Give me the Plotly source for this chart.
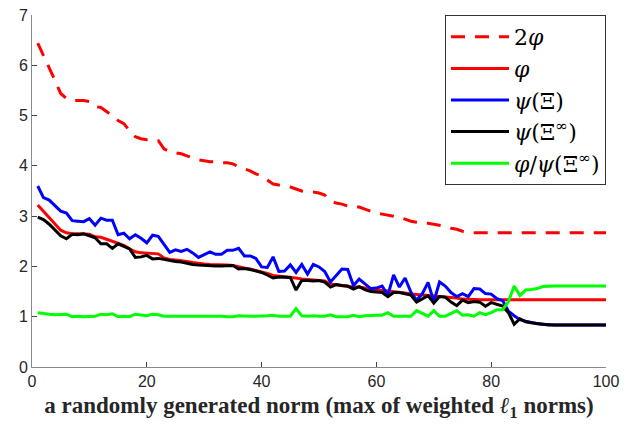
import plotly.graph_objects as go

x_vals = list(range(1, 101))

two_phi = [6.44, 6.20, 5.94, 5.70, 5.44, 5.34, 5.30, 5.30, 5.30, 5.28,
           5.18, 5.16, 5.08, 5.00, 4.90, 4.84, 4.70, 4.58, 4.54, 4.52,
           4.52, 4.50, 4.34, 4.28, 4.26, 4.24, 4.20, 4.16, 4.12, 4.10,
           4.08, 4.08, 4.06, 4.06, 4.04, 3.98, 3.94, 3.90, 3.84, 3.80,
           3.72, 3.64, 3.62, 3.60, 3.58, 3.54, 3.50, 3.48, 3.48, 3.46,
           3.42, 3.30, 3.26, 3.24, 3.20, 3.18, 3.18, 3.14, 3.10, 3.06,
           3.04, 3.02, 3.00, 2.98, 2.94, 2.90, 2.88, 2.86, 2.86, 2.84,
           2.82, 2.80, 2.76, 2.74, 2.70, 2.68, 2.67, 2.67, 2.67, 2.67,
           2.67, 2.67, 2.67, 2.67, 2.67, 2.67, 2.67, 2.67, 2.67, 2.67,
           2.67, 2.67, 2.67, 2.67, 2.67, 2.67, 2.67, 2.67, 2.67, 2.67]

phi = [3.22, 3.10, 2.97, 2.85, 2.72, 2.67, 2.65, 2.65, 2.65, 2.64,
       2.59, 2.58, 2.54, 2.50, 2.45, 2.42, 2.35, 2.29, 2.27, 2.26,
       2.26, 2.25, 2.17, 2.14, 2.13, 2.12, 2.10, 2.08, 2.06, 2.05,
       2.04, 2.04, 2.03, 2.03, 2.02, 1.99, 1.97, 1.95, 1.92, 1.90,
       1.86, 1.82, 1.81, 1.80, 1.79, 1.77, 1.75, 1.74, 1.74, 1.73,
       1.71, 1.65, 1.63, 1.62, 1.60, 1.59, 1.59, 1.57, 1.55, 1.53,
       1.52, 1.51, 1.50, 1.49, 1.47, 1.45, 1.44, 1.43, 1.43, 1.42,
       1.41, 1.40, 1.38, 1.37, 1.35, 1.34, 1.335, 1.335, 1.335, 1.335,
       1.335, 1.335, 1.335, 1.335, 1.335, 1.335, 1.335, 1.335, 1.335, 1.335,
       1.335, 1.335, 1.335, 1.335, 1.335, 1.335, 1.335, 1.335, 1.335, 1.335]

psi_xi = [3.60, 3.37, 3.32, 3.21, 3.10, 3.06, 2.91, 2.90, 2.89, 2.95,
          2.82, 2.96, 2.92, 2.92, 2.63, 2.66, 2.55, 2.63, 2.56, 2.47,
          2.62, 2.60, 2.43, 2.28, 2.33, 2.30, 2.34, 2.27, 2.18, 2.24,
          2.29, 2.24, 2.24, 2.32, 2.32, 2.36, 2.21, 2.21, 2.16, 1.99,
          1.98, 2.19, 1.90, 1.91, 2.03, 1.88, 2.04, 1.85, 2.04, 1.99,
          1.90, 1.69, 1.83, 1.95, 1.94, 1.62, 1.75, 1.66, 1.56, 1.57,
          1.61, 1.43, 1.83, 1.59, 1.77, 1.49, 1.33, 1.46, 1.68, 1.30,
          1.69, 1.61, 1.48, 1.40, 1.46, 1.40, 1.56, 1.55, 1.46, 1.45,
          1.36, 1.32, 1.11, 1.02, 0.94, 0.91, 0.88, 0.86, 0.85, 0.835,
          0.835, 0.835, 0.835, 0.835, 0.835, 0.835, 0.835, 0.835, 0.835, 0.835]

psi_xi_inf = [2.98, 2.93, 2.84, 2.73, 2.61, 2.55, 2.64, 2.63, 2.65, 2.61,
              2.57, 2.45, 2.45, 2.36, 2.45, 2.40, 2.35, 2.18, 2.19, 2.22,
              2.15, 2.16, 2.14, 2.11, 2.10, 2.09, 2.06, 2.04, 2.03, 2.02,
              2.02, 2.01, 2.01, 2.02, 2.02, 1.95, 1.96, 1.94, 1.91, 1.88,
              1.83, 1.77, 1.79, 1.79, 1.78, 1.53, 1.72, 1.72, 1.71, 1.72,
              1.69, 1.59, 1.64, 1.62, 1.61, 1.55, 1.60, 1.54, 1.50, 1.49,
              1.48, 1.40, 1.48, 1.48, 1.46, 1.43, 1.29, 1.35, 1.42, 1.27,
              1.40, 1.39, 1.29, 1.22, 1.33, 1.28, 1.30, 1.29, 1.21, 1.28,
              1.24, 1.21, 1.08, 0.85, 0.96, 0.90, 0.88, 0.86, 0.85, 0.835,
              0.835, 0.835, 0.835, 0.835, 0.835, 0.835, 0.835, 0.835, 0.835, 0.835]

ratio = [1.08, 1.06, 1.05, 1.04, 1.04, 1.05, 1.00, 1.01, 1.00, 1.01,
         1.01, 1.05, 1.04, 1.06, 1.00, 1.01, 1.00, 1.05, 1.04, 1.02,
         1.05, 1.04, 1.01, 1.01, 1.01, 1.01, 1.02, 1.02, 1.01, 1.01,
         1.01, 1.01, 1.01, 1.00, 1.00, 1.02, 1.01, 1.01, 1.01, 1.01,
         1.02, 1.03, 1.01, 1.01, 1.01, 1.16, 1.02, 1.01, 1.02, 1.01,
         1.01, 1.04, 1.00, 1.00, 1.00, 1.03, 1.00, 1.02, 1.03, 1.03,
         1.03, 1.08, 1.01, 1.01, 1.01, 1.01, 1.12, 1.06, 1.01, 1.12,
         1.01, 1.01, 1.07, 1.12, 1.03, 1.04, 1.01, 1.08, 1.04, 1.08,
         1.14, 1.14, 1.30, 1.61, 1.42, 1.53, 1.54, 1.56, 1.60, 1.61,
         1.61, 1.61, 1.61, 1.61, 1.61, 1.61, 1.61, 1.61, 1.61, 1.61]

y_ticks = [0, 1, 2, 3, 4, 5, 6, 7]
x_ticks = [0, 20, 40, 60, 80, 100]

series = [
    ("2<i>φ</i>", two_phi, "#ff0000", "14px,10px"),
    ("<i>φ</i>", phi, "#ff0000", "solid"),
    ("<i>ψ</i>(Ξ)", psi_xi, "#0000ff", "solid"),
    ("<i>ψ</i>(Ξ<sup>∞</sup>)", psi_xi_inf, "#000000", "solid"),
    ("<i>φ</i>/<i>ψ</i>(Ξ<sup>∞</sup>)", ratio, "#00ff00", "solid"),
]

fig = go.Figure()
for i, (name, ys, color, dash) in enumerate(series):
    fig.add_trace(go.Scatter(
        x=x_vals, y=ys, mode="lines", name=name, legendgroup=str(i),
        line=dict(color=color, width=3, dash=dash),
    ))

axis_common = dict(
    showgrid=False, zeroline=False, showline=True, linecolor="#8a8a8a",
    linewidth=1, ticks="inside", ticklen=5, tickcolor="#444444",
    tickfont=dict(family="Liberation Sans, Arial", size=16, color="#262626"),
    mirror=False, ticklabeloverflow="allow",
)

fig.update_layout(
    width=626, height=427,
    margin=dict(l=32, r=14, t=7, b=60),
    paper_bgcolor="white", plot_bgcolor="white",
    xaxis=dict(range=[0, 100], tickvals=x_ticks,
               title=dict(text="<b>a randomly generated norm (max of weighted <i>ℓ</i><sub>1</sub> norms)</b>",
                          font=dict(family="Liberation Serif, Times New Roman, serif", size=23, color="#262626"),
                          standoff=7),
               **axis_common),
    yaxis=dict(range=[0, 7.0005], tickvals=y_ticks, **axis_common),
    legend=dict(
        x=1, y=1, xanchor="right", yanchor="top",
        bordercolor="#333333", borderwidth=1, bgcolor="white",
        font=dict(family="DejaVu Serif, serif", size=22, color="#000000"),
        traceorder="grouped", tracegroupgap=0, itemwidth=58,
    ),
    showlegend=True,
)

fig.write_html("out.html", config={"displayModeBar": False},
               post_script="document.body.style.margin='0';")
